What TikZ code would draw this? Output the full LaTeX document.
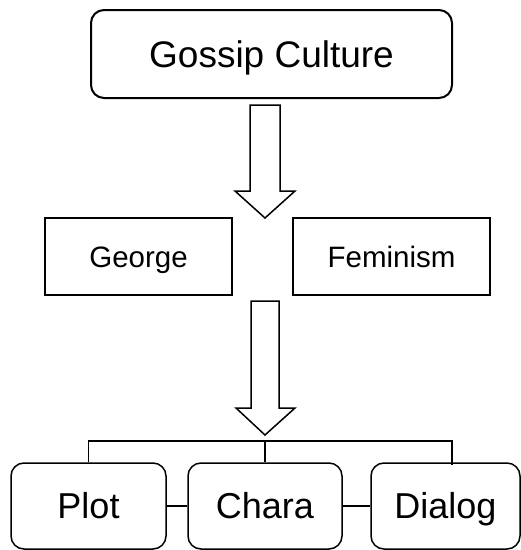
\documentclass[tikz,border=0pt]{standalone}
\usepackage{fontspec}
\setmainfont{Liberation Sans}
\usetikzlibrary{calc}
\begin{document}
\begin{tikzpicture}[x=1pt,y=-1pt,
  box/.style={draw=black, line width=1.5pt, fill=white, inner sep=0pt, align=center,
              text depth=0pt},
  rbox/.style={box, rounded corners=13pt},
  big/.style={font=\fontsize{36}{40}\selectfont, text height=25.8pt},
  mid/.style={font=\fontsize{29.5}{32}\selectfont, text height=21.1pt},
  blockarrow/.style={draw=black, line width=1.5pt, fill=white, line join=miter},
  conn/.style={draw=black, line width=1.5pt}
]
\useasboundingbox (0,0) rectangle (521,550);

\node[rbox, line width=2pt, minimum width=361pt, minimum height=88pt,
      font=\fontsize{37}{40}\selectfont, text height=26.5pt] (top) at (271.5,54) {Gossip Culture};

\node[box, mid, minimum width=187pt, minimum height=77pt] (george) at (138.5,256.5) {George};
\node[box, mid, minimum width=197pt, minimum height=77pt] (fem) at (391.5,256.5) {Feminism};

\node[rbox, big, minimum width=155pt, minimum height=86pt] (plot) at (88.5,506) {Plot};
\node[rbox, big, minimum width=154pt, minimum height=86pt] (chara) at (265,506) {Chara};
\node[rbox, big, minimum width=149pt, minimum height=86pt] (dialog) at (445.5,506) {Dialog};

% block arrows
\draw[blockarrow] (250,105) -- (280,105) -- (280,191) -- (295,191) -- (265,218)
  -- (235,191) -- (250,191) -- cycle;
\draw[blockarrow] (251,301) -- (279,301) -- (279,408) -- (295,408) -- (265,435)
  -- (236,408) -- (251,408) -- cycle;

% tree connector
\coordinate (busL) at (88.5,441);
\coordinate (busR) at (452,441);
\coordinate (dtop) at (452,465);
\draw[conn] (plot.north) -- (busL) -- (busR) -- (dtop);
\draw[conn] (chara.north) -- (chara.north |- busL);

% side connectors
\draw[conn] (plot.east) -- (chara.west);
\draw[conn] (chara.east) -- (dialog.west);
\end{tikzpicture}
\end{document}
